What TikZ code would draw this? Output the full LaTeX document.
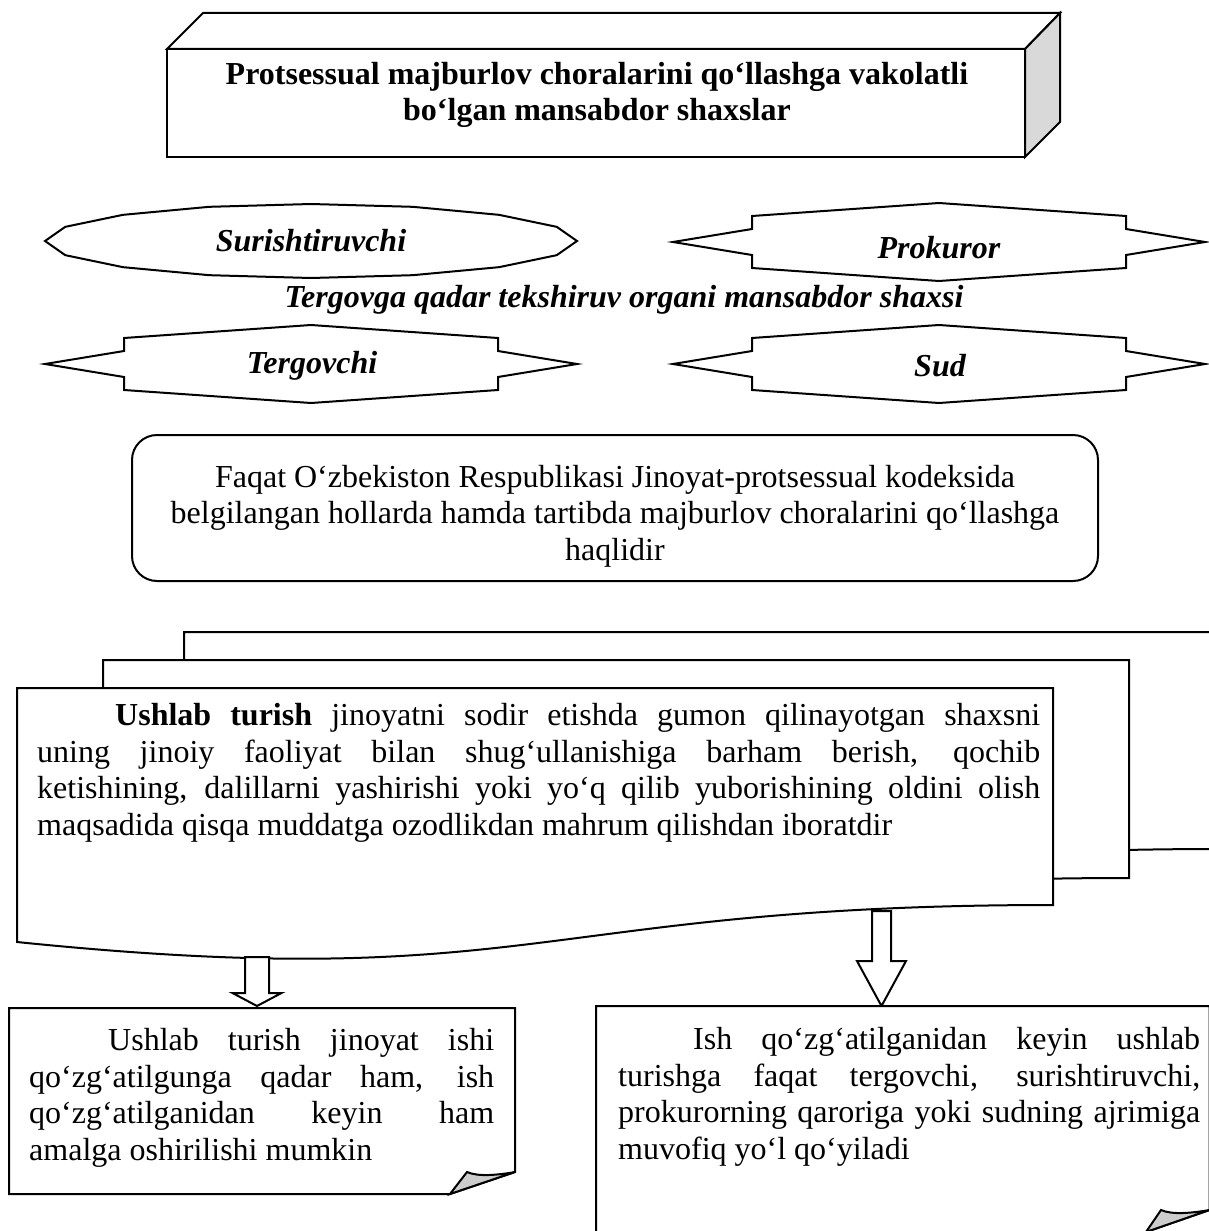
\documentclass[tikz,border=0pt]{standalone}
\usepackage{fontspec}
\setmainfont{Liberation Serif}
\tolerance=10000
\hyphenpenalty=10000
\tikzset{
  outline/.style={draw, line width=2pt, fill=white},
  fold/.style={draw, line width=2pt, fill=gray!40},
  bodytext/.style={font=\fontsize{32}{36.7}\selectfont, inner sep=0pt},
  starlabel/.style={font=\fontsize{32}{36}\selectfont\bfseries\itshape, inner sep=0pt},
  starbox/.pic={\draw[outline] (-266,0)--(-187,-13)--(-187,-26)--(0,-39)--(187,-26)--(187,-13)--(266,0)--(187,13)--(187,26)--(0,39)--(-187,26)--(-187,13)--cycle;}
}
\begin{document}
\begin{tikzpicture}[x=1pt,y=-1pt]
\useasboundingbox (0,0) rectangle (1208,1231);
% title block
\draw[outline] (167,49) rectangle (1025,157);
\draw[outline] (167,49)--(203,13)--(1060,13)--(1025,49)--cycle;
\draw[outline, fill=gray!30] (1025,49)--(1060,13)--(1060,122)--(1025,157)--cycle;
\node[font=\fontsize{32}{36.7}\selectfont\bfseries, align=center] (title) at (597,95) {Protsessual majburlov choralarini qo‘llashga vakolatli\\bo‘lgan mansabdor shaxslar};
% officials
\draw[outline] plot[domain=0:337.5, samples=16] ({311+266*cos(\x)},{241+37*sin(\x)})--cycle;
\node[starlabel] (surish) at (311,241) {Surishtiruvchi};
\pic at (939,242) {starbox};
\node[starlabel] (prok) at (939,248) {Prokuror};
\node[starlabel] (organ) at (624,300) {Tergovga qadar tekshiruv organi mansabdor shaxsi};
\pic at (311,364) {starbox};
\node[starlabel] (tergov) at (312,366) {Tergovchi};
\pic at (939,364) {starbox};
\node[starlabel] (sud) at (940,366) {Sud};
% rule box
\draw[outline, rounded corners=25pt] (132,435) rectangle (1098,581);
\node[bodytext, align=center] (rule) at (615,516) {Faqat O‘zbekiston Respublikasi Jinoyat-protsessual kodeksida\\belgilangan hollarda hamda tartibda majburlov choralarini qo‘llashga\\haqlidir};
% document stack
\draw[outline] (184,632)--(1220,632)--(1220,849) .. controls (702,849) and (702,932) .. (184,885)--cycle;
\draw[outline] (103,660)--(1129,660)--(1129,878) .. controls (616,878) and (616,960) .. (103,913)--cycle;
\draw[outline] (17,688)--(1053,688)--(1053,905) .. controls (535,905) and (535,995) .. (17,942)--cycle;
\node[bodytext, text width=1003pt, align=justify, anchor=north west] (ushlab) at (37,703) {\hspace*{78pt}\textbf{Ushlab turish} jinoyatni sodir etishda gumon qilinayotgan shaxsni\linebreak uning jinoiy faoliyat bilan shug‘ullanishiga barham berish, qochib\linebreak ketishining, dalillarni yashirishi yoki yo‘q qilib yuborishining oldini olish\linebreak maqsadida qisqa muddatga ozodlikdan mahrum qilishdan iboratdir};
% block arrows
\coordinate (tipA) at (257,1006);
\coordinate (tipB) at (881.5,1006);
\draw[outline] (tipA)--++(-24.5,-13)--++(12.5,0)--++(0,-36)--++(24,0)--++(0,36)--++(12.5,0)--cycle;
\draw[outline] (tipB)--++(-24.5,-45)--++(15,0)--++(0,-50)--++(19,0)--++(0,50)--++(15,0)--cycle;
% lower boxes
\draw[outline] (9,1008)--(515,1008)--(515,1172)--(450,1194)--(9,1194)--cycle;
\draw[fold] (450,1194)--(467,1172) .. controls (478,1177) and (498,1175) .. (515,1172)--cycle;
\node[bodytext, text width=465pt, align=justify, anchor=north west] (oldin) at (29,1028) {\hspace*{79pt}Ushlab turish jinoyat ishi\linebreak qo‘zg‘atilgunga qadar ham, ish\linebreak qo‘zg‘atilganidan keyin ham\linebreak amalga oshirilishi mumkin};
\draw[outline] (596,1006)--(1209.5,1006)--(1209.5,1210)--(1146,1232)--(596,1232)--cycle;
\draw[fold] (1146,1232)--(1161,1210) .. controls (1172,1215) and (1192,1213) .. (1209.5,1210)--cycle;
\node[bodytext, text width=582pt, align=justify, anchor=north west] (keyin) at (618,1027) {\hspace*{75pt}Ish qo‘zg‘atilganidan keyin ushlab\linebreak turishga faqat tergovchi, surishtiruvchi,\linebreak prokurorning qaroriga yoki sudning ajrimiga\linebreak muvofiq yo‘l qo‘yiladi};
\end{tikzpicture}
\end{document}
